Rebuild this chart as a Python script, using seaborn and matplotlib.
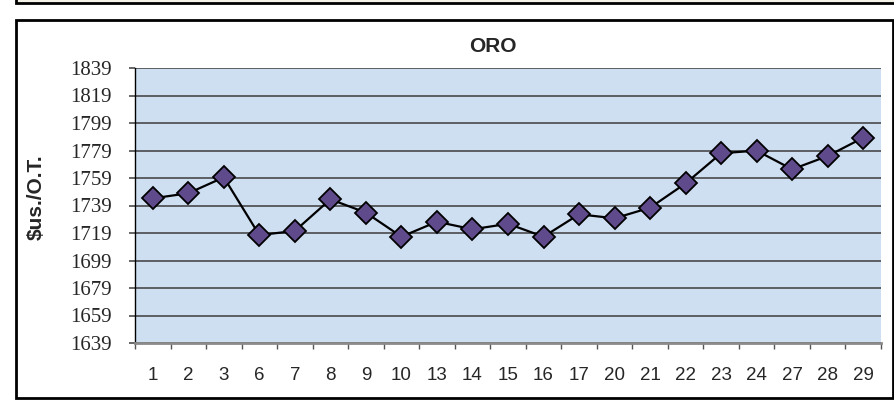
import numpy as np
import pandas as pd
import matplotlib
matplotlib.use("Agg")
import matplotlib.pyplot as plt
import seaborn as sns
from matplotlib.patches import Rectangle

# Data
dias = ["1", "2", "3", "6", "7", "8", "9", "10", "13", "14", "15",
        "16", "17", "20", "21", "22", "23", "24", "27", "28", "29"]
precio = [1744.2, 1747.9, 1759.5, 1717.5, 1720.5, 1743.5, 1733.8, 1716.3,
          1727.2, 1721.7, 1725.7, 1716.3, 1732.6, 1729.7, 1737.4, 1755.1,
          1777.0, 1778.9, 1765.3, 1775.0, 1788.3]
y_ticks = list(range(1639, 1840, 20))

df = pd.DataFrame({"pos": np.arange(len(dias)), "dia": dias, "precio": precio})

sns.set_style("white")
plt.rcParams["font.family"] = ["Liberation Sans", "DejaVu Sans"]

fig = plt.figure(figsize=(8.95, 4.0), dpi=100)
ax = fig.add_axes([135 / 895, 1 - 343 / 400, 746 / 895, 275 / 400])
ax.set_facecolor("#cfdff2")

# horizontal grid lines
for v in y_ticks:
    ax.axhline(v, color="#3c3c3c", lw=1.1, zorder=1)

sns.lineplot(data=df, x="pos", y="precio", ax=ax, color="black", lw=1.6,
             marker="D", markersize=11, markerfacecolor="#5f4b8b",
             markeredgecolor="black", markeredgewidth=1.3, zorder=3)

ax.set_xlim(-0.5, len(dias) - 0.5)
ax.set_ylim(1639, 1839)

ax.set_xticks(df["pos"])
ax.set_xticklabels(dias, fontsize=13.5)
ax.set_xticks(np.arange(-0.5, len(dias), 1.0), minor=True)
ax.tick_params(axis="x", which="major", length=0, pad=17)
ax.tick_params(axis="x", which="minor", length=4.5, width=1, color="#555555",
               direction="out", bottom=True)

ax.set_yticks(y_ticks)
ax.set_yticklabels([str(v) for v in y_ticks], fontsize=15,
                   family="Liberation Serif")
ax.tick_params(axis="y", length=4.5, width=1.1, color="#3c3c3c", pad=12,
               left=True)

for s in ["top", "right"]:
    ax.spines[s].set_visible(False)
ax.spines["left"].set_color("black")
ax.spines["left"].set_linewidth(1.0)
ax.spines["bottom"].set_color("#8a8a8a")
ax.spines["bottom"].set_linewidth(2.0)

ax.set_xlabel("")
ax.set_ylabel("")
fig.text(36 / 895, 1 - 197 / 400, "$us./O.T.", rotation=90, ha="center",
         va="center", fontsize=15, fontweight="bold")
fig.text(493 / 895, 1 - 47 / 400, "ORO", ha="center", va="center",
         fontsize=15, fontweight="bold")

# chart frame and the edge of the box above
fig.add_artist(Rectangle((16 / 895, 1 - 398 / 400), 877 / 895, 378 / 400,
                         transform=fig.transFigure, fill=False,
                         ec="black", lw=2, zorder=0))
fig.add_artist(Rectangle((16 / 895, 1 - 2.5 / 400), 900 / 895, 20 / 400,
                         transform=fig.transFigure, fc="#f4f1e6",
                         ec="black", lw=2, zorder=0))

fig.savefig("out.png", dpi=100)
